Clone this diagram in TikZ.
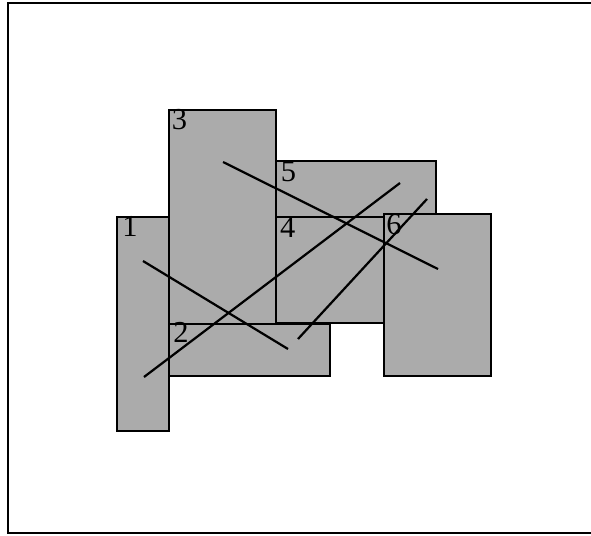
\documentclass[tikz,border=0pt]{standalone}
\usepackage{fontspec}
\setmainfont{Liberation Serif}
\usetikzlibrary{positioning}
\tikzset{
  block/.style={draw=black, line width=1.9pt, fill=black!33, inner sep=0pt},
  tag/.style={anchor=north west, inner sep=0pt, font=\fontsize{26}{28}\selectfont},
  cut/.style={draw=black, line width=1.9pt},
}
\begin{document}
\begin{tikzpicture}[x=0.03cm, y=-0.03cm]
    \useasboundingbox (0,0) rectangle (591,536);
    % frame
    \draw[line width=1.9pt] (596,3) -- (8,3) -- (8,533) -- (596,533);
    % blocks
    \node[block, minimum width=1.56cm, minimum height=6.42cm] (r1) at (143,324) {};
    \node[block, minimum width=3.21cm, minimum height=6.42cm] (r3) at (222.5,217) {};
    \node[block, minimum width=4.83cm, minimum height=1.56cm] (r2) at (249.5,350) {};
    \node[block, minimum width=4.80cm, minimum height=1.68cm] (r5) at (356,189) {};
    \node[block, minimum width=3.24cm, minimum height=3.18cm] (r4) at (330,270) {};
    \node[block, minimum width=3.21cm, minimum height=4.86cm] (r6) at (437.5,295) {};
    % numbers
    \node[tag] (n1) at ([xshift=0.19cm, yshift=-0.02cm]r1.north west) {1};
    \node[tag] (n2) at ([xshift=0.16cm, yshift=0.01cm]r2.north west) {2};
    \node[tag] (n3) at ([xshift=0.11cm, yshift=-0.02cm]r3.north west) {3};
    \node[tag] (n4) at ([xshift=0.15cm, yshift=-0.04cm]r4.north west) {4};
    \node[tag] (n5) at ([xshift=0.17cm, yshift=-0.05cm]r5.north west) {5};
    \node[tag] (n6) at ([xshift=0.10cm, yshift=-0.03cm]r6.north west) {6};
    % cuts
    \coordinate (a1) at (143,261);
    \coordinate (a2) at (288,349);
    \coordinate (b1) at (144,377);
    \coordinate (b2) at (400,183);
    \coordinate (c1) at (223,162);
    \coordinate (c2) at (438,269);
    \coordinate (d1) at (298,339);
    \coordinate (d2) at (427,199);
    \draw[cut] (a1) -- (a2);
    \draw[cut] (b1) -- (b2);
    \draw[cut] (c1) -- (c2);
    \draw[cut] (d1) -- (d2);
\end{tikzpicture}
\end{document}
